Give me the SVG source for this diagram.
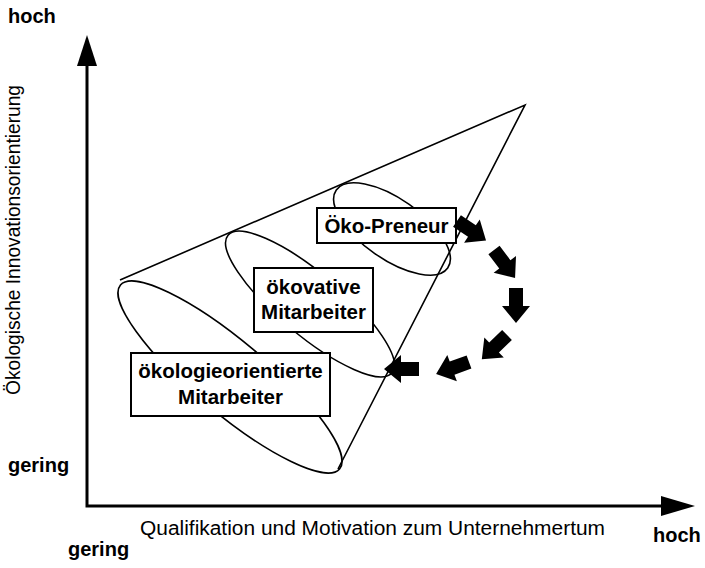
<svg xmlns="http://www.w3.org/2000/svg" width="705" height="568" viewBox="0 0 705 568">
<style>
.ax{stroke:#000;stroke-width:3;fill:none}
.ln{stroke:#000;stroke-width:1.6;fill:none}
.box{fill:#fff;stroke:#000;stroke-width:2}
.b{font-family:"Liberation Sans",Arial,sans-serif;font-weight:bold;font-size:20px;fill:#000}
.bc{font-family:"Liberation Sans",Arial,sans-serif;font-weight:bold;font-size:20.5px;fill:#000;text-anchor:middle}
.n{font-family:"Liberation Sans",Arial,sans-serif;font-size:20px;fill:#000}
</style>
<defs>
<path id="blk" d="M0,-7 H18 V-14 L35,0 L18,14 V7 H0 Z" fill="#000"/>
</defs>
<rect width="705" height="568" fill="#fff"/>
<g id="axes">
<polyline class="ax" points="87,60 87,506 665,506"/>
<polygon points="87,35 77,66 97,66" fill="#000"/>
<polygon points="695,506 661,496 661,516" fill="#000"/>
</g>
<g id="labels">
<text class="b" x="8" y="23">hoch</text>
<text class="b" x="8" y="472">gering</text>
<text class="b" x="68" y="556">gering</text>
<text class="b" x="653" y="542">hoch</text>
<text class="n" x="140" y="535" textLength="465" lengthAdjust="spacingAndGlyphs">Qualifikation und Motivation zum Unternehmertum</text>
<text class="n" transform="translate(20,395) rotate(-90)" x="0" y="0" textLength="310" lengthAdjust="spacingAndGlyphs">Ökologische Innovationsorientierung</text>
</g>
<g id="cone">
<polyline class="ln" points="120,280 525,105 338,469"/>
<ellipse class="ln" cx="230" cy="377" rx="143" ry="36" transform="rotate(40 230 377)"/>
<ellipse class="ln" cx="310" cy="304" rx="107" ry="31" transform="rotate(40 310 304)"/>
<ellipse class="ln" cx="392" cy="229" rx="68" ry="30" transform="rotate(35 392 229)"/>
</g>
<g id="node-oekopreneur">
<rect class="box" x="317" y="208" width="139" height="35"/>
<text class="bc" x="386.5" y="233">Öko-Preneur</text>
</g>
<g id="node-oekovative">
<rect class="box" x="254" y="268" width="119" height="64"/>
<text class="bc" x="313.5" y="294">ökovative</text>
<text class="bc" x="313.5" y="319">Mitarbeiter</text>
</g>
<g id="node-oekologieorientierte">
<rect class="box" x="131" y="353" width="199" height="63"/>
<text class="bc" x="230.5" y="378">ökologieorientierte</text>
<text class="bc" x="230.5" y="404">Mitarbeiter</text>
</g>
<g id="connectors">
<use href="#blk" transform="translate(457,221) rotate(34)"/>
<use href="#blk" transform="translate(494,250) rotate(53)"/>
<use href="#blk" transform="translate(516,288) rotate(90)"/>
<use href="#blk" transform="translate(507,335) rotate(136)"/>
<use href="#blk" transform="translate(469,362) rotate(160)"/>
<use href="#blk" transform="translate(419,369) rotate(180)"/>
</g>
</svg>
